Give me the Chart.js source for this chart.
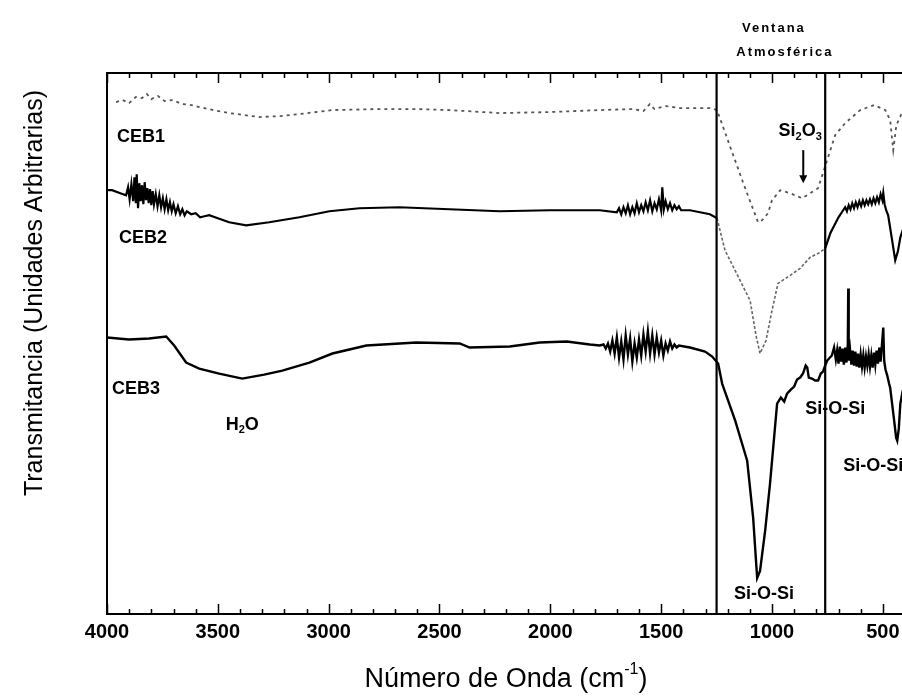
<!DOCTYPE html>
<html>
<head>
<meta charset="utf-8">
<script src="https://cdn.jsdelivr.net/npm/chart.js@4.4.1/dist/chart.umd.min.js"></script>
<style>
  html, body { margin: 0; padding: 0; background: #fff; overflow: hidden; }
  #wrap { width: 910px; height: 697px; }
</style>
</head>
<body>
<div id="wrap"><canvas id="ftir" width="910" height="697"></canvas></div>
<script>
// FTIR transmittance spectra of three CEB samples (arbitrary units, offset
// vertically), 4000-400 cm^-1, with the atmospheric window marked.

const majorTicks = [4000, 3500, 3000, 2500, 2000, 1500, 1000, 500];
const windowEdges = [1250, 760];

const ceb1Wn = [3959, 3930, 3900, 3870, 3842, 3820, 3800, 3770, 3740, 3706, 3660, 3620, 3584,
  3520, 3449, 3380, 3313, 3220, 3132, 2983, 2771, 2604, 2455, 2229, 2003, 1777, 1628, 1580,
  1551, 1530, 1480, 1415, 1280, 1248, 1180, 1131, 1063, 1045, 1018, 1000, 963, 918, 864,
  792, 715, 670, 602, 539, 489, 467, 453, 439, 412];
const ceb1T = [51.1, 51.3, 51.0, 51.6, 51.5, 51.9, 51.4, 51.7, 51.2, 51.3, 50.9, 50.8, 50.6,
  50.3, 50.0, 49.8, 49.6, 49.7, 49.9, 50.3, 50.4, 50.4, 50.3, 50.0, 50.1, 50.3, 50.4, 50.2,
  50.9, 50.4, 50.7, 50.5, 50.5, 50.3, 46.1, 43.1, 39.1, 39.3, 40.0, 41.3, 42.3, 42.0, 41.5,
  42.5, 47.8, 49.0, 50.3, 50.8, 50.3, 49.3, 46.3, 48.8, 50.1];

const ceb2Wn = [4000, 3977, 3940, 3914, 3905, 3898, 3890, 3882, 3876, 3870, 3866, 3860, 3854,
  3848, 3842, 3836, 3830, 3824, 3818, 3812, 3806, 3800, 3794, 3788, 3780, 3772, 3764, 3756,
  3748, 3740, 3732, 3724, 3716, 3708, 3700, 3690, 3680, 3670, 3660, 3650, 3640, 3620, 3600,
  3580, 3560, 3539, 3500, 3449, 3372, 3268, 3132, 2997, 2861, 2681, 2455, 2229, 2003, 1777,
  1700, 1690, 1680, 1670, 1660, 1650, 1640, 1630, 1620, 1610, 1600, 1590, 1580, 1570, 1560,
  1550, 1540, 1530, 1520, 1510, 1500, 1495, 1488, 1480, 1470, 1460, 1450, 1440, 1430, 1420,
  1410, 1370, 1325, 1280, 1248, 1212, 1144, 1099, 1072, 1054, 1027, 1000, 973, 918, 873, 828,
  783, 760, 737, 700, 679, 670, 662, 654, 646, 638, 630, 622, 614, 606, 598, 590, 582, 574,
  566, 558, 550, 542, 534, 526, 518, 510, 502, 498, 492, 485, 476, 458, 444, 432, 421, 403];
const ceb2T = [42.3, 42.3, 42.0, 41.8, 42.6, 41.4, 42.9, 41.2, 43.6, 41.0, 43.9, 40.5, 43.0,
  41.2, 42.8, 40.9, 43.1, 41.3, 42.5, 41.0, 42.4, 40.8, 42.2, 40.9, 41.9, 40.7, 41.8, 40.6,
  41.5, 40.4, 41.4, 40.3, 41.1, 40.2, 40.9, 40.0, 40.7, 39.9, 40.4, 39.8, 40.2, 39.9, 40.0,
  39.6, 39.7, 39.8, 39.5, 39.1, 38.8, 39.1, 39.6, 40.2, 40.5, 40.6, 40.4, 40.2, 40.3, 40.3,
  40.1, 40.5, 39.9, 40.6, 40.0, 40.8, 39.9, 40.6, 40.0, 41.0, 40.1, 40.8, 40.2, 41.1, 40.3,
  41.3, 40.2, 41.0, 40.4, 41.4, 40.3, 42.6, 40.4, 41.2, 40.4, 41.0, 40.3, 40.8, 40.4, 40.7,
  40.3, 40.3, 40.1, 39.9, 39.5, 36.3, 33.3, 31.3, 27.8, 26.0, 27.3, 30.3, 33.0, 33.8, 34.5, 35.6,
  36.1, 36.5, 38.0, 39.6, 40.3, 40.6, 40.2, 40.8, 40.4, 41.0, 40.5, 41.1, 40.6, 41.2, 40.7, 41.3,
  40.8, 41.3, 40.9, 41.4, 40.9, 41.5, 41.0, 41.6, 41.1, 41.9, 41.3, 42.0, 40.9, 40.3, 39.8,
  37.3, 35.3, 36.2, 37.6, 38.8];

const ceb3Wn = [4000, 3901, 3810, 3733, 3697, 3643, 3584, 3494, 3390, 3291, 3209, 3087, 2983,
  2830, 2604, 2409, 2364, 2183, 2048, 1926, 1822, 1777, 1760, 1750, 1740, 1730, 1720, 1710,
  1700, 1690, 1680, 1670, 1660, 1650, 1640, 1630, 1620, 1610, 1600, 1590, 1580, 1570, 1560,
  1550, 1540, 1530, 1520, 1510, 1500, 1490, 1480, 1470, 1460, 1450, 1440, 1430, 1420, 1370,
  1302, 1270, 1243, 1225, 1166, 1112, 1085, 1067, 1054, 1031, 1009, 977, 960, 945, 932, 915,
  900, 887, 873, 860, 848, 841, 834, 820, 805, 792, 780, 770, 760, 751, 730, 720, 712, 706,
  700, 694, 688, 682, 676, 670, 664, 658, 656, 654, 648, 642, 636, 630, 624, 618, 612, 606,
  600, 594, 588, 582, 576, 570, 564, 558, 552, 546, 540, 534, 528, 522, 516, 510, 504, 498,
  494, 488, 480, 472, 467, 450, 440, 435, 428, 421, 410, 400];
const ceb3T = [27.6, 27.4, 27.5, 27.7, 26.8, 25.1, 24.5, 24.0, 23.5, 23.9, 24.3, 25.1, 26.0,
  26.8, 27.1, 27.0, 26.6, 26.7, 27.1, 27.2, 26.9, 26.8, 26.9, 26.5, 27.0, 26.2, 27.3, 26.0,
  27.6, 25.6, 27.2, 25.4, 27.8, 25.9, 27.5, 25.2, 27.0, 25.6, 27.4, 25.8, 27.9, 26.2, 28.2,
  26.0, 27.8, 25.9, 27.6, 26.1, 27.3, 25.8, 27.0, 26.3, 27.2, 26.5, 26.9, 26.6, 26.8, 26.6,
  26.2, 25.7, 25.0, 23.0, 19.3, 15.3, 9.6, 3.6, 4.3, 8.3, 13.0, 21.0, 21.6, 21.2, 22.0, 22.4,
  22.7, 23.4, 23.6, 24.0, 24.8, 24.6, 23.6, 23.5, 23.3, 23.3, 24.0, 24.2, 24.8, 25.3, 25.8,
  26.6, 25.4, 26.3, 25.0, 26.7, 25.2, 26.5, 24.9, 26.6, 25.1, 26.9, 32.5, 25.3, 26.4, 24.9,
  26.3, 24.8, 26.2, 24.7, 26.0, 24.6, 25.9, 24.7, 25.8, 24.6, 25.7, 24.8, 25.9, 24.7, 25.8,
  24.6, 26.1, 24.9, 26.3, 25.0, 26.6, 25.2, 26.9, 28.6, 25.3, 24.4, 23.8, 23.0, 22.6, 19.5,
  17.6, 17.3, 18.5, 21.0, 22.3, 22.8];

const toXY = (wn, t) => wn.map((w, i) => ({ x: w, y: t[i] }));
const inWindow = (c) => c.p0.parsed.x <= windowEdges[0] && c.p1.parsed.x >= windowEdges[1];

const FONT = '"Liberation Sans Narrow", "Liberation Sans", Arial, sans-serif';

// text with optional sub/superscript pieces
function drawRich(ctx, parts, x, y, size, align) {
  const big = `bold ${size}px ${FONT}`;
  const small = `bold ${Math.round(size * 0.62)}px ${FONT}`;
  let total = 0;
  parts.forEach(p => { ctx.font = p.s ? small : big; total += ctx.measureText(p.t).width; });
  let cx = align === 'left' ? x : x - total / 2;
  ctx.textAlign = 'left';
  ctx.textBaseline = 'middle';
  parts.forEach(p => {
    ctx.font = p.s ? small : big;
    const dy = p.s === 'sub' ? size * 0.3 : p.s === 'sup' ? -size * 0.35 : 0;
    ctx.fillText(p.t, cx, y + dy);
    cx += ctx.measureText(p.t).width;
  });
}

const labels = [
  { parts: [{ t: 'CEB1' }], wn: 3955, v: 47.6, align: 'left' },
  { parts: [{ t: 'CEB2' }], wn: 3946, v: 37.5, align: 'left' },
  { parts: [{ t: 'CEB3' }], wn: 3977, v: 22.5, align: 'left' },
  { parts: [{ t: 'H' }, { t: '2', s: 'sub' }, { t: 'O' }], wn: 3390, v: 18.9, align: 'center' },
  { parts: [{ t: 'Si' }, { t: '2', s: 'sub' }, { t: 'O' }, { t: '3', s: 'sub' }], wn: 873, v: 48.2, align: 'center' },
  { parts: [{ t: 'Si-O-Si' }], wn: 715, v: 20.5, align: 'center' },
  { parts: [{ t: 'Si-O-Si' }], wn: 679, v: 14.8, align: 'left' },
  { parts: [{ t: 'Si-O-Si' }], wn: 1036, v: 2.0, align: 'center' }
];

const decor = {
  id: 'decor',
  afterDraw(chart) {
    const { ctx, chartArea: a, scales: { x, y } } = chart;
    ctx.save();
    ctx.strokeStyle = '#000';
    ctx.fillStyle = '#000';

    // frame
    ctx.lineWidth = 2;
    ctx.strokeRect(a.left, a.top, a.right - a.left, a.bottom - a.top);

    // inward ticks, top and bottom
    ctx.lineWidth = 1.5;
    for (let w = 400; w <= 4000; w += 100) {
      const px = Math.round(x.getPixelForValue(w)) + 0.5;
      const len = w % 500 === 0 ? 10 : 5;
      ctx.beginPath();
      ctx.moveTo(px, a.bottom); ctx.lineTo(px, a.bottom - len);
      ctx.moveTo(px, a.top); ctx.lineTo(px, a.top + len);
      ctx.stroke();
    }

    // atmospheric window
    ctx.lineWidth = 2.2;
    windowEdges.forEach(w => {
      const px = x.getPixelForValue(w);
      ctx.beginPath();
      ctx.moveTo(px, a.top); ctx.lineTo(px, a.bottom);
      ctx.stroke();
    });

    // peak / sample labels
    labels.forEach(l => drawRich(ctx, l.parts, x.getPixelForValue(l.wn), y.getPixelForValue(l.v), 18, l.align));

    // arrow under Si2O3
    const ax = x.getPixelForValue(859);
    const ay0 = y.getPixelForValue(46.3), ay1 = y.getPixelForValue(43.0);
    ctx.lineWidth = 2;
    ctx.beginPath(); ctx.moveTo(ax, ay0); ctx.lineTo(ax, ay1 - 6); ctx.stroke();
    ctx.beginPath(); ctx.moveTo(ax - 4, ay1 - 8); ctx.lineTo(ax + 4, ay1 - 8); ctx.lineTo(ax, ay1); ctx.closePath(); ctx.fill();

    // window caption
    ctx.font = `bold 13px ${FONT}`;
    ctx.textAlign = 'center';
    ctx.textBaseline = 'middle';
    ctx.letterSpacing = '2px';
    const wx = (x.getPixelForValue(windowEdges[0]) + x.getPixelForValue(windowEdges[1])) / 2;
    ctx.fillText('Ventana', wx + 3, a.top - 45);
    ctx.fillText('Atmosférica', wx + 14, a.top - 21);
    ctx.letterSpacing = '0px';

    // axis titles
    ctx.font = `25px "Liberation Sans", Arial, sans-serif`;
    ctx.save();
    ctx.translate(a.left - 72, a.top + 220);
    ctx.rotate(-Math.PI / 2);
    ctx.textAlign = 'center';
    ctx.fillText('Transmitancia (Unidades Arbitrarias)', 0, 0);
    ctx.restore();

    const big = `27px "Liberation Sans", Arial, sans-serif`;
    const sup = `16px "Liberation Sans", Arial, sans-serif`;
    const base = 'Número de Onda (cm';
    ctx.font = big;
    const w1 = ctx.measureText(base).width;
    const w3 = ctx.measureText(')').width;
    ctx.font = sup;
    const w2 = ctx.measureText('-1').width;
    let tx = (a.left + a.right) / 2 - (w1 + w2 + w3) / 2;
    const ty = 680;
    ctx.textAlign = 'left';
    ctx.font = big;
    ctx.fillText(base, tx, ty); tx += w1;
    ctx.font = sup;
    ctx.fillText('-1', tx, ty - 10); tx += w2;
    ctx.font = big;
    ctx.fillText(')', tx, ty);
    ctx.restore();
  }
};

new Chart(document.getElementById('ftir'), {
  type: 'line',
  data: {
    datasets: [
      {
        label: 'CEB1', data: toXY(ceb1Wn, ceb1T),
        borderColor: '#555', borderWidth: 1.8, borderDash: [3, 4]
      },
      {
        label: 'CEB2', data: toXY(ceb2Wn, ceb2T),
        borderColor: '#000', borderWidth: 2.2,
        segment: {
          borderColor: c => inWindow(c) ? '#666' : undefined,
          borderWidth: c => inWindow(c) ? 1.6 : undefined,
          borderDash: c => inWindow(c) ? [3, 2] : undefined
        }
      },
      {
        label: 'CEB3', data: toXY(ceb3Wn, ceb3T),
        borderColor: '#000', borderWidth: 2.4
      }
    ]
  },
  options: {
    responsive: false,
    animation: false,
    layout: { padding: { left: 107, top: 73, right: 5, bottom: 47 } },
    elements: { point: { radius: 0 }, line: { tension: 0 } },
    plugins: { legend: { display: false }, tooltip: { enabled: false } },
    scales: {
      x: {
        type: 'linear', reverse: true, min: 400, max: 4000,
        grid: { display: false, drawTicks: false },
        border: { display: false },
        afterBuildTicks: axis => { axis.ticks = majorTicks.map(v => ({ value: v })); },
        ticks: {
          autoSkip: false, maxRotation: 0, padding: 6, color: '#000',
          font: { family: FONT, size: 20, weight: 'bold' },
          callback: v => String(v)
        }
      },
      y: { display: false, min: 0, max: 54 }
    }
  },
  plugins: [decor]
});
</script>
</body>
</html>
